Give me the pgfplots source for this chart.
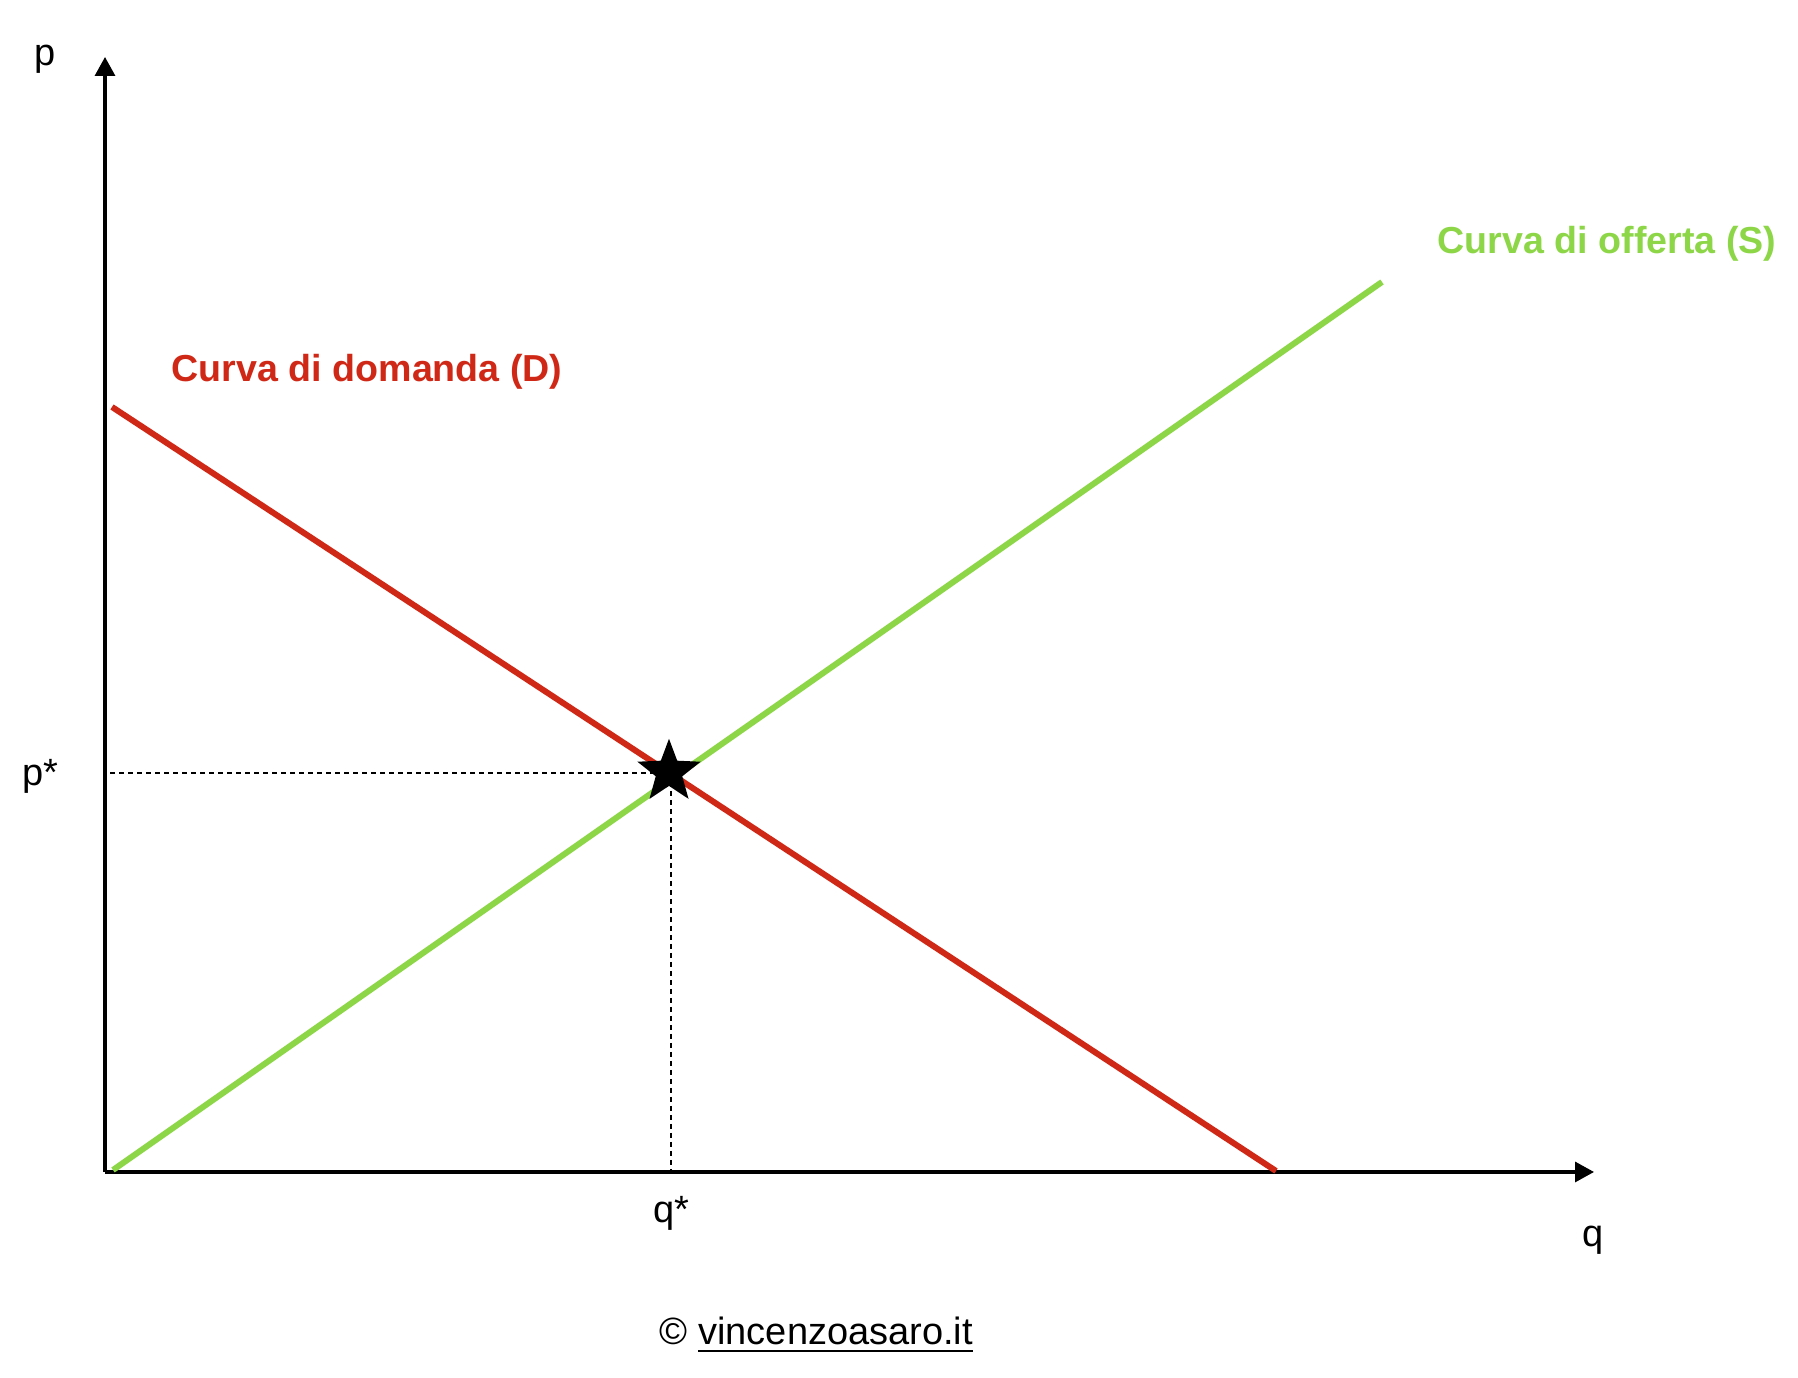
\documentclass[border=0pt]{standalone}
\usepackage{pgfplots}
\pgfplotsset{compat=1.18}
\usepackage{fontspec}
\setmainfont{Liberation Sans}
\usetikzlibrary{arrows.meta}
\definecolor{dred}{RGB}{208,40,22}
\definecolor{sgreen}{RGB}{140,214,72}
\pgfdeclareplotmark{fstar}{%
  \pgfpathmoveto{\pgfpointpolar{90}{\pgfplotmarksize}}%
  \pgfpathlineto{\pgfpointpolar{126}{0.42\pgfplotmarksize}}%
  \pgfpathlineto{\pgfpointpolar{162}{\pgfplotmarksize}}%
  \pgfpathlineto{\pgfpointpolar{198}{0.42\pgfplotmarksize}}%
  \pgfpathlineto{\pgfpointpolar{234}{\pgfplotmarksize}}%
  \pgfpathlineto{\pgfpointpolar{270}{0.42\pgfplotmarksize}}%
  \pgfpathlineto{\pgfpointpolar{306}{\pgfplotmarksize}}%
  \pgfpathlineto{\pgfpointpolar{342}{0.42\pgfplotmarksize}}%
  \pgfpathlineto{\pgfpointpolar{18}{\pgfplotmarksize}}%
  \pgfpathlineto{\pgfpointpolar{54}{0.42\pgfplotmarksize}}%
  \pgfpathclose\pgfusepathqfill}
\begin{document}
\begin{tikzpicture}[x=0.25pt,y=0.25pt]
\useasboundingbox (0,0) rectangle (1798,1378);
\begin{axis}[
  at={(26.25pt,51.5pt)}, anchor=origin,
  scale only axis, width=372.25pt, height=278.75pt,
  xmin=0, xmax=1489, ymin=0, ymax=1115,
  axis lines=left,
  axis line style={line width=0.8pt},
  x axis line style={-{Triangle[length=4.75pt,width=5pt]}},
  y axis line style={-{Triangle[length=4.75pt,width=5pt]}},
  xtick=\empty, ytick=\empty,
  clip=false,
]
\addplot[sgreen, line width=1.5pt] coordinates {(8,2) (1277,890)};
\addplot[dred, line width=1.5pt] coordinates {(7,765) (1171,1)};
\addplot[black, line width=0.55pt, dash pattern=on 1.25pt off 1pt] coordinates {(5,399) (566,399)};
\addplot[black, line width=0.55pt, dash pattern=on 1.25pt off 1pt] coordinates {(566,399) (566,0)};
\addplot[only marks, mark=fstar, mark size=8.3pt, black] coordinates {(564,400)};
\end{axis}
\node[anchor=base, font=\fontsize{9.5}{11}\selectfont, inner sep=0pt] at (45,1312) {p};
\node[anchor=base, font=\fontsize{9.5}{11}\selectfont, inner sep=0pt] at (40,592) {p*};
\node[anchor=base, font=\fontsize{9.5}{11}\selectfont, inner sep=0pt] at (671,155) {q*};
\node[anchor=base, font=\fontsize{9.5}{11}\selectfont, inner sep=0pt] at (1593,131) {q};
\node[anchor=base west, font=\fontsize{9.4}{11}\selectfont\bfseries, text=dred, inner sep=0pt] at (171,996) {Curva di domanda (D)};
\node[anchor=base west, font=\fontsize{9.4}{11}\selectfont\bfseries, text=sgreen, inner sep=0pt] at (1437,1124) {Curva di offerta (S)};
\node[anchor=base west, font=\fontsize{9.5}{11}\selectfont, inner sep=0pt] at (659,33) {© \underline{vincenzoasaro.it}};
\end{tikzpicture}
\end{document}
